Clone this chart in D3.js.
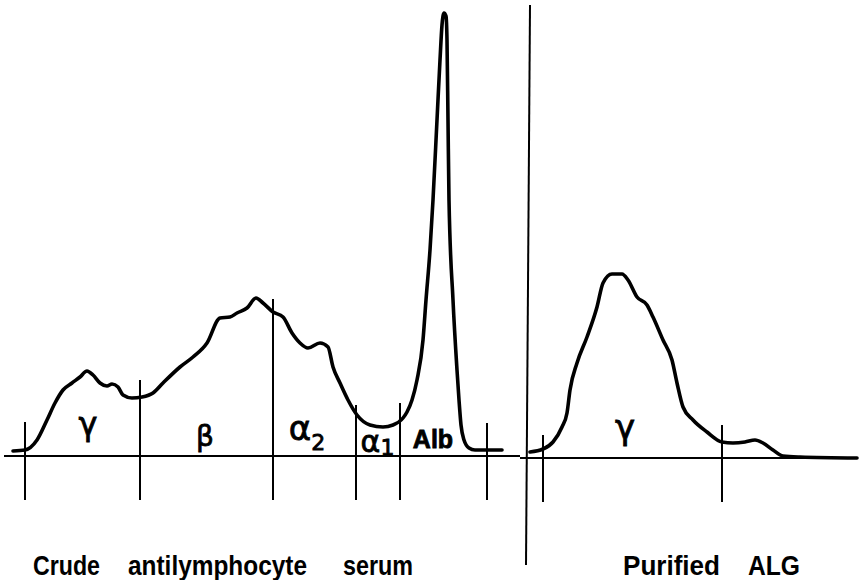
<!DOCTYPE html>
<html>
<head>
<meta charset="utf-8">
<script src="https://cdn.jsdelivr.net/npm/d3@7"></script>
<style>
  body { margin: 0; background: #ffffff; }
  svg { display: block; }
</style>
</head>
<body>
<svg></svg>
<script>
// densitometer scans: position along the strip (x) and optical density above baseline (h)
var crudeX = [13, 25, 37, 47, 55, 63, 72, 80, 87, 93, 100, 107, 112, 118, 123, 132, 142, 153, 163,
    180, 193, 207, 220, 230, 237, 247, 256, 263, 273, 283, 292, 300, 308, 320, 328, 333, 340, 348,
    357, 370, 383, 393, 403, 407, 412, 417, 423, 426, 430, 433, 437, 440, 442, 444, 446, 447, 448,
    449, 453, 457, 459, 461, 464, 469, 475, 502];
var crudeH = [5, 6, 16, 36, 53, 66, 73, 79, 85, 81, 73, 70, 72, 69, 61, 58, 59, 63, 73,
    89, 99, 113, 138, 139, 143, 148, 158, 153, 144, 139, 123, 113, 108, 113, 109, 89, 73, 56,
    41, 31, 29, 31, 38, 44, 56, 76, 116, 156, 206, 256, 336, 396, 431, 443, 440, 416, 336,
    256, 156, 86, 56, 31, 16, 8, 6, 6];

var algX = [530, 543, 553, 562, 567, 570, 577, 587, 597, 603, 612, 622, 628, 637, 647, 653, 663,
    672, 677, 683, 693, 707, 722, 733, 745, 755, 763, 773, 783, 800, 857];
var algH = [6, 9, 16, 31, 45, 68, 95, 121, 151, 175, 184, 184, 178, 161, 153, 141, 118,
    98, 75, 51, 38, 26, 16, 15, 16, 18, 15, 8, 2, 1, 0];

// fraction boundaries and how high each marker reaches
var crudeCuts = [25, 140, 273, 356, 400, 487];
var crudeCutTops = [34, 76, 157, 51, 53, 33];
var crudeFractions = ["γ", "β", "α", "α", "Alb"];
var crudeSubs = ["", "", "2", "1", ""];

var algCuts = [543, 722];
var algCutTops = [23, 33];
var algFractions = ["γ"];
var algSubs = [""];

var crudeCaption = ["Crude", "antilymphocyte", "serum"];
var algCaption = ["Purified", "ALG"];

var svg = d3.select("svg")
    .attr("width", 861)
    .attr("height", 580);

var x = d3.scaleLinear().domain([0, 861]).range([0, 861]);
var yCrude = d3.scaleLinear().domain([0, 450]).range([456, 6]);
var yAlg = d3.scaleLinear().domain([0, 450]).range([458, 8]);

function traceLine(y, curve) {
    return d3.line()
        .x(function (d) { return x(d[0]); })
        .y(function (d) { return y(d[1]); })
        .curve(curve);
}

// baselines
svg.append("path")
    .attr("d", traceLine(yCrude, d3.curveLinear)([[4, 0], [520, 0]]))
    .attr("fill", "none").attr("stroke", "#000").attr("stroke-width", 2);
svg.append("path")
    .attr("d", traceLine(yAlg, d3.curveLinear)([[520, 0], [857, 0]]))
    .attr("fill", "none").attr("stroke", "#000").attr("stroke-width", 2);

// fraction markers, they run down past the baseline
function drawCuts(cuts, tops, y) {
    svg.append("g").selectAll("line")
        .data(cuts)
        .enter()
        .append("line")
        .attr("x1", function (d) { return x(d); })
        .attr("x2", function (d) { return x(d); })
        .attr("y1", function (d, i) { return y(tops[i]); })
        .attr("y2", y(0) + 44)
        .attr("stroke", "#000")
        .attr("stroke-width", 2);
}
drawCuts(crudeCuts, crudeCutTops, yCrude);
drawCuts(algCuts, algCutTops, yAlg);

// long divider between the two scans
svg.append("line")
    .attr("x1", x(530)).attr("y1", yCrude(451))
    .attr("x2", x(526)).attr("y2", yCrude(-109))
    .attr("stroke", "#000").attr("stroke-width", 2);

// the scans themselves
svg.append("path")
    .datum(d3.zip(crudeX, crudeH))
    .attr("d", traceLine(yCrude, d3.curveMonotoneX))
    .attr("fill", "none").attr("stroke", "#000")
    .attr("stroke-width", 3.6).attr("stroke-linejoin", "round").attr("stroke-linecap", "round");
svg.append("path")
    .datum(d3.zip(algX, algH))
    .attr("d", traceLine(yAlg, d3.curveMonotoneX))
    .attr("fill", "none").attr("stroke", "#000")
    .attr("stroke-width", 3.6).attr("stroke-linejoin", "round").attr("stroke-linecap", "round");

// fraction labels, centred between markers with a small hand nudge
var crudeLook = [
    { nudge: 5.5, base: 435, size: 32, sub: 0, font: "DejaVu Sans", weight: 400 },
    { nudge: -1.5, base: 446, size: 28, sub: 0, font: "DejaVu Sans", weight: 400 },
    { nudge: -7.5, base: 440, size: 34, sub: 10, font: "DejaVu Sans", weight: 400 },
    { nudge: -0.5, base: 452, size: 30, sub: 3, font: "DejaVu Sans", weight: 400 },
    { nudge: -10.5, base: 448, size: 25, sub: 0, font: "Liberation Sans", weight: 700 }
];
var algLook = [
    { nudge: -7.5, base: 439, size: 34, sub: 0, font: "DejaVu Sans", weight: 400 }
];

function drawLabels(names, subs, cuts, look) {
    names.forEach(function (name, i) {
        var mid = (x(cuts[i]) + x(cuts[i + 1])) / 2;
        var t = svg.append("text")
            .attr("x", mid + look[i].nudge)
            .attr("y", look[i].base)
            .attr("text-anchor", "middle")
            .attr("font-family", look[i].font)
            .attr("font-weight", look[i].weight)
            .attr("font-size", look[i].size)
            .attr("fill", "#000")
            .attr("stroke", "#000")
            .attr("stroke-width", 0.8)
            .text(name);
        if (subs[i]) {
            t.append("tspan")
                .attr("dy", look[i].sub)
                .attr("font-size", 22)
                .text(subs[i]);
        }
    });
}
drawLabels(crudeFractions, crudeSubs, crudeCuts, crudeLook);
drawLabels(algFractions, algSubs, algCuts, algLook);

// captions under each scan
var crudeWordX = [33, 128, 343], crudeWordW = [67, 179, 70];
var algWordX = [623, 748], algWordW = [97, 52];

function drawCaption(words, xs, ws) {
    svg.append("g").selectAll("text")
        .data(words)
        .enter()
        .append("text")
        .attr("x", function (d, i) { return xs[i]; })
        .attr("y", 575)
        .attr("textLength", function (d, i) { return ws[i]; })
        .attr("lengthAdjust", "spacingAndGlyphs")
        .attr("font-family", "Liberation Sans")
        .attr("font-weight", 700)
        .attr("font-size", 28)
        .attr("fill", "#000")
        .text(function (d) { return d; });
}
drawCaption(crudeCaption, crudeWordX, crudeWordW);
drawCaption(algCaption, algWordX, algWordW);
</script>
</body>
</html>
